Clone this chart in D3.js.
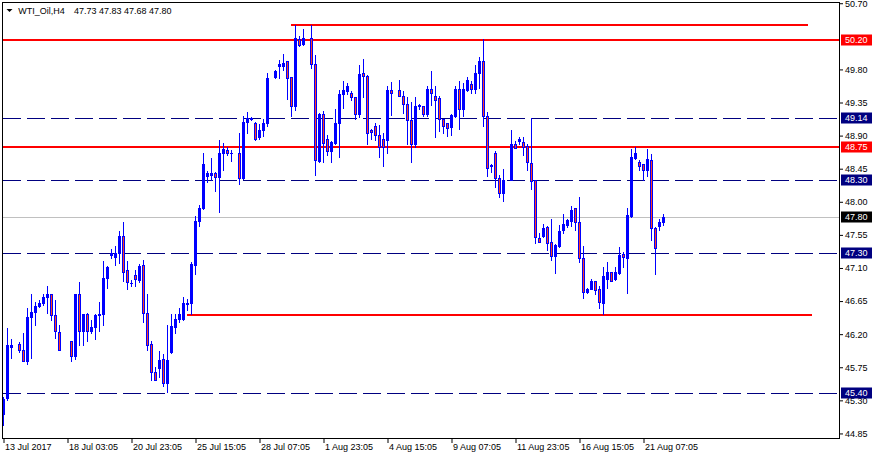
<!DOCTYPE html>
<html><head><meta charset="utf-8">
<script src="https://cdn.jsdelivr.net/npm/d3@7"></script>
<style>
body{margin:0;background:#fff}
svg{display:block}
text{font-family:"Liberation Sans",Arial,sans-serif;font-size:9px;fill:#000}
</style>
</head><body>
<svg id="c" width="879" height="459"></svg>
<script>
// ---- data (WTI_Oil, H4) ----
const opens = [45.12,45.33,46.02,null,46.06,45.99,45.84,46.43,46.50,46.58,46.62,46.70,46.74,46.46,46.23,null,null,46.11,45.90,46.75,
46.24,46.47,46.24,46.30,46.46,46.48,46.96,47.27,47.25,47.31,47.53,47.07,46.90,47.01,46.94,47.14,46.49,46.06,45.69,45.74,
45.86,45.53,45.96,46.30,46.40,46.40,46.61,46.62,47.14,47.74,47.91,48.35,48.36,48.39,48.34,48.66,48.71,48.67,null,48.66,
48.32,49.08,49.12,49.07,48.88,48.98,49.07,null,49.70,49.84,49.85,49.91,49.70,49.30,50.22,50.14,null,50.23,49.87,48.55,
49.20,48.85,48.69,48.80,49.07,49.47,49.50,49.48,49.42,49.20,49.75,49.71,48.97,49.03,48.91,48.86,48.84,49.52,null,49.52,
49.44,49.33,49.11,48.79,49.30,49.30,49.20,49.54,49.44,49.41,49.12,49.07,49.02,49.16,49.53,49.26,49.52,49.60,49.54,49.75,
49.91,49.16,48.48,48.67,48.33,48.12,null,48.30,48.78,48.82,48.81,48.76,48.53,48.30,47.51,47.54,47.66,47.45,47.26,47.40,
47.61,47.68,47.74,47.91,47.72,47.23,46.77,46.82,46.92,46.82,46.62,46.95,47.04,46.95,47.03,47.29,47.23,47.81,48.60,48.54,
48.51,48.43,48.57,47.65,47.67,47.73];
const highs = [45.35,46.28,46.14,null,46.10,46.21,46.55,46.74,46.64,46.66,46.74,46.86,46.74,46.67,46.33,null,null,46.11,46.75,46.91,
46.48,46.49,46.39,46.48,46.64,47.20,47.13,47.36,47.40,47.60,47.73,47.19,46.93,47.07,47.16,47.21,46.74,46.11,45.75,45.97,
45.93,46.33,46.48,46.48,46.56,46.71,46.68,47.18,47.81,47.95,48.66,48.42,48.59,48.41,48.84,48.80,48.74,48.70,null,48.93,
49.16,49.22,49.15,49.08,49.06,49.13,49.75,null,49.79,49.93,50.01,49.91,49.70,50.40,50.26,50.35,null,50.40,49.99,49.21,
49.23,48.91,48.82,49.26,49.52,49.64,49.62,49.51,49.42,49.86,49.94,49.73,48.99,49.07,49.05,48.93,49.57,49.63,null,49.66,
49.50,49.42,49.36,49.42,49.33,49.30,49.57,49.78,49.57,49.44,49.13,49.07,49.19,49.57,49.64,49.61,49.70,49.64,49.86,49.97,
50.21,49.22,48.52,48.69,48.36,48.44,null,48.97,48.83,48.88,48.88,48.78,49.14,48.30,47.57,47.70,47.67,47.76,47.43,47.68,
47.84,47.76,47.94,47.91,48.06,47.40,46.83,46.95,46.92,46.86,47.11,47.18,47.05,47.11,47.38,47.32,47.91,48.72,48.74,48.57,
48.52,48.72,48.65,47.66,47.76,47.83];
const lows = [44.96,45.31,45.87,null,45.96,45.83,45.79,45.88,46.33,46.57,46.59,46.49,46.39,46.15,45.98,null,null,45.83,45.86,46.05,
46.05,46.11,46.21,46.13,46.24,46.32,46.83,47.23,47.14,47.17,46.92,46.81,46.86,46.85,46.91,46.37,45.98,45.57,45.57,45.62,
45.49,45.42,45.94,46.21,46.37,46.39,46.53,46.48,47.02,47.67,47.90,48.27,48.30,48.15,47.86,48.43,48.63,48.55,null,48.24,
48.31,48.94,49.11,48.84,48.86,48.89,49.03,null,49.69,49.69,49.79,49.40,49.17,49.25,50.12,50.13,null,49.82,48.37,48.54,
48.54,48.64,48.54,48.78,48.61,49.28,49.47,49.38,49.12,49.15,49.42,48.79,48.85,48.84,48.61,48.48,48.67,49.18,null,49.44,
49.21,48.78,48.54,48.75,49.26,49.17,49.17,49.32,48.88,48.96,48.94,48.89,48.91,49.15,48.99,49.16,49.51,49.48,49.48,49.55,
49.03,48.35,48.40,48.20,48.07,48.01,null,48.30,48.73,48.79,48.64,48.43,48.17,47.44,47.45,47.52,47.34,47.21,47.03,47.39,
47.57,47.66,47.67,47.61,47.18,46.69,46.76,46.81,46.74,46.56,46.48,46.83,46.92,46.94,47.02,47.11,46.76,47.80,48.58,48.43,
48.30,48.35,47.48,47.02,47.61,47.68];
const closes = [45.32,46.05,46.05,null,45.98,45.84,46.43,46.50,46.58,46.63,46.71,46.74,46.46,46.24,45.98,null,null,45.90,46.74,46.24,
46.48,46.24,46.30,46.46,46.48,46.96,47.11,47.30,47.31,47.53,47.05,46.91,46.89,46.95,47.13,46.49,46.05,45.69,45.57,45.85,
45.53,45.85,46.31,46.40,46.47,46.62,46.63,47.16,47.74,47.91,48.51,48.39,48.39,48.34,48.67,48.72,48.66,48.66,null,48.33,
49.08,49.14,49.14,48.85,48.98,49.07,49.69,null,49.78,49.87,49.89,49.69,49.30,50.23,50.13,50.23,null,49.88,48.57,49.20,
48.80,48.69,48.81,49.07,49.47,49.52,49.57,49.43,49.20,49.74,49.71,48.94,48.95,48.91,48.74,48.75,49.52,49.48,null,49.44,
49.33,49.11,48.79,49.30,49.32,49.20,49.53,49.48,49.39,49.12,49.03,49.00,49.18,49.53,49.26,49.53,49.66,49.53,49.75,49.91,
49.17,48.46,48.50,48.33,48.12,48.30,null,48.78,48.73,48.85,48.75,48.54,48.28,47.52,47.45,47.65,47.44,47.26,47.41,47.60,
47.70,47.75,47.89,47.72,47.23,46.77,46.82,46.92,46.80,46.64,46.99,47.04,46.92,47.04,47.28,47.25,47.82,48.61,48.66,48.48,
48.43,48.58,47.65,47.37,47.73,47.80];

const timeTickBars = [0,16,32,48,64,80,96,112,128,144,160];
const timeTickLabels = ["13 Jul 2017","18 Jul 03:05","20 Jul 23:05","25 Jul 15:05","28 Jul 07:05","1 Aug 23:05","4 Aug 15:05","9 Aug 07:05","11 Aug 23:05","16 Aug 15:05","21 Aug 07:05"];
const priceTicks = [50.70,49.80,49.35,48.90,48.45,48.00,47.55,47.10,46.65,46.20,45.75,45.30,44.85];

const redLevels = [50.20, 48.75];
const dashLevels = [49.14, 48.30, 47.30, 45.40];
const bidLevel = 47.80;
const segLevels = [50.41, 46.46];
const segFrom = [72, 46];
const segTo = [201, 202];

const symbolName = "WTI_Oil,H4";
const lastOHLC = [47.73, 47.83, 47.68, 47.80];

// ---- drawing ----
const svg = d3.select("#c");
const L = 3, R = 839, T = 2, B = 438;
const x = d3.scaleLinear().domain([0, 165]).range([3.5, 663.5]);
const y = d3.scaleLinear().domain([44.85, 50.70]).range([433.45, 3.23]);
const BLUE = "#0000ff", RED = "#ff0000", NAVY = "#000080", BEARFILL = "#ff4020";

const bars = d3.range(opens.length).filter(i => opens[i] != null)
  .map(i => ({i, o: opens[i], h: highs[i], l: lows[i], c: closes[i]}));

// horizontal level lines
const g = svg.append("g");
g.append("line").attr("x1", L).attr("x2", R).attr("y1", Math.round(y(bidLevel)) + 0.5).attr("y2", Math.round(y(bidLevel)) + 0.5)
  .attr("stroke", "#c0c0c0");
dashLevels.forEach(v => {
  const yy = Math.round(y(v)) + 0.5;
  g.append("line").attr("x1", L).attr("x2", R).attr("y1", yy).attr("y2", yy)
    .attr("stroke", NAVY).attr("stroke-dasharray", "18,6");
});
redLevels.forEach(v => {
  const yy = Math.round(y(v));
  g.append("line").attr("x1", L).attr("x2", R).attr("y1", yy).attr("y2", yy)
    .attr("stroke", RED).attr("stroke-width", 2);
});
segLevels.forEach((v, k) => {
  const yy = Math.round(y(v));
  g.append("line").attr("x1", x(segFrom[k]) - 0.5).attr("x2", x(segTo[k]) + 0.5).attr("y1", yy).attr("y2", yy)
    .attr("stroke", RED).attr("stroke-width", 2);
});

// candles
const cg = svg.append("g").attr("shape-rendering", "crispEdges");
bars.forEach(d => {
  const cx = x(d.i);
  const yh = Math.round(y(d.h)), yl = Math.round(y(d.l));
  cg.append("rect").attr("x", cx - 0.5).attr("y", yh).attr("width", 1).attr("height", Math.max(1, yl - yh + 1)).attr("fill", BLUE);
  const yt = Math.round(y(Math.max(d.o, d.c))), yb = Math.round(y(Math.min(d.o, d.c)));
  const hh = Math.max(1, yb - yt + 1);
  cg.append("rect").attr("x", cx - 1.5).attr("y", yt).attr("width", 3).attr("height", hh).attr("fill", BLUE);
  if (d.c < d.o && hh >= 3) {
    cg.append("rect").attr("x", cx - 0.5).attr("y", yt + 1).attr("width", 1).attr("height", hh - 2).attr("fill", BEARFILL);
  }
});

// frame
svg.append("rect").attr("x", 2.5).attr("y", 2.5).attr("width", R - 2).attr("height", B - 2)
  .attr("fill", "none").attr("stroke", "#000");

// right price axis
const ya = d3.axisRight(y).tickValues(priceTicks).tickSize(4).tickPadding(2).tickFormat(d3.format(".2f"));
const yg = svg.append("g").attr("transform", `translate(${R},0)`).call(ya);
yg.select(".domain").remove();
yg.selectAll("line").attr("stroke", "#000");
yg.selectAll("text").attr("fill", "#000").style("font-family", '"Liberation Sans",Arial,sans-serif').style("font-size", "9px");

// bottom time axis
const xa = d3.axisBottom(x).tickValues(timeTickBars).tickSize(5)
  .tickFormat((d, k) => timeTickLabels[k]);
const xg = svg.append("g").attr("transform", `translate(0,${B})`).call(xa);
xg.select(".domain").remove();
xg.selectAll("line").attr("stroke", "#000");
xg.selectAll("text").attr("text-anchor", "start").attr("x", 1).attr("y", 6)
  .attr("fill", "#000").style("font-family", '"Liberation Sans",Arial,sans-serif').style("font-size", "9px");

// price tags
const tags = [
  ...redLevels.map(v => ({v, bg: RED})),
  ...dashLevels.map(v => ({v, bg: NAVY})),
  {v: bidLevel, bg: "#000"}
];
tags.forEach(t => {
  const yy = Math.round(y(t.v));
  svg.append("rect").attr("x", 841).attr("y", yy - 5.5).attr("width", 31).attr("height", 11).attr("fill", t.bg);
  svg.append("text").attr("x", 845).attr("y", yy + 3.3).style("fill", "#fff").text(d3.format(".2f")(t.v));
});

// title
svg.append("path").attr("d", "M6.5,9 L12.5,9 L9.5,12 Z").attr("fill", "#000");
svg.append("text").attr("x", 18.3).attr("y", 14).text(symbolName);
svg.append("text").attr("x", 74).attr("y", 14).text(lastOHLC.map(d3.format(".2f")).join(" "));
</script>
</body></html>
